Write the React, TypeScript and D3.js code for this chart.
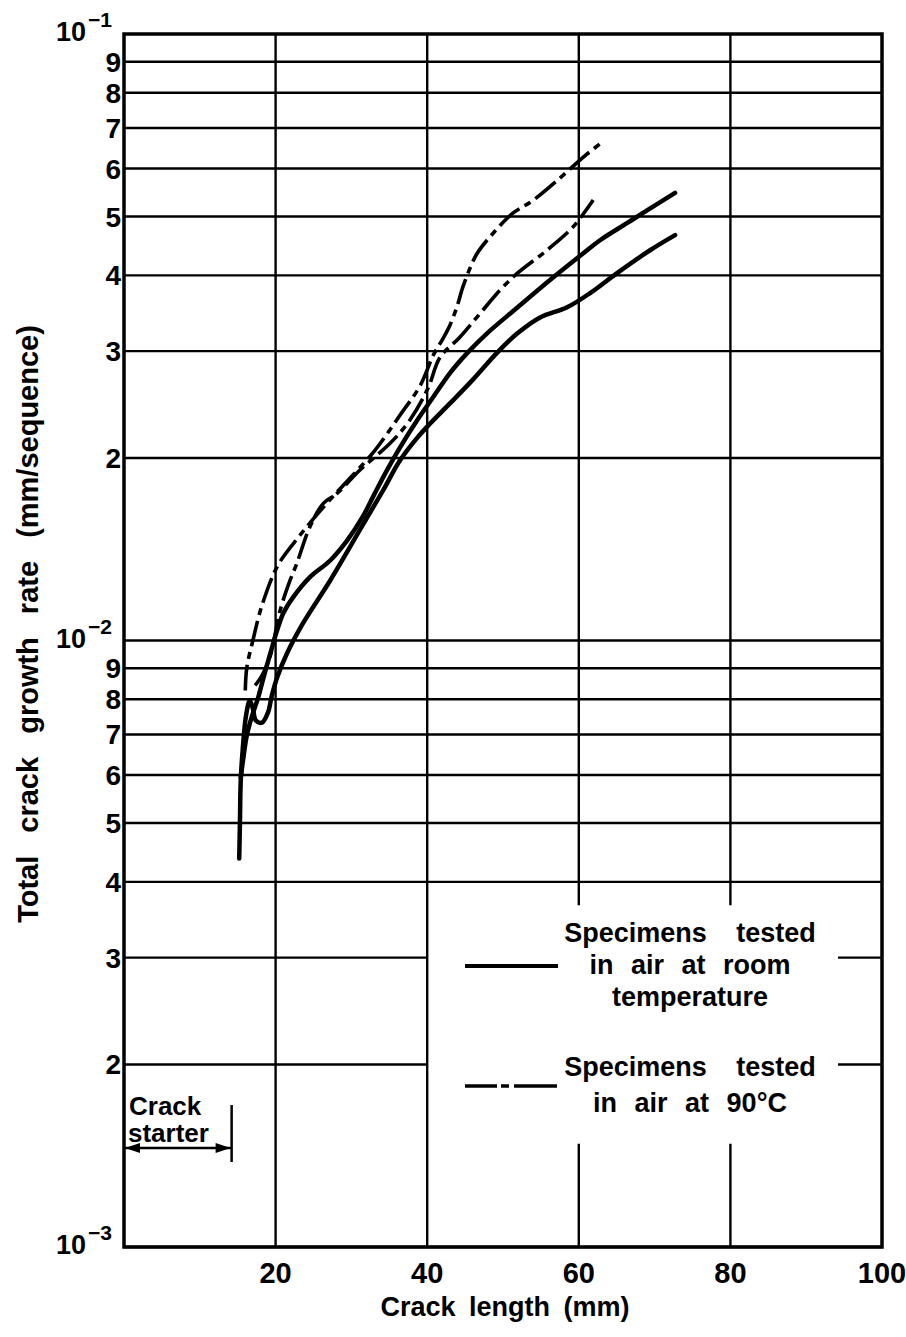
import * as d3 from "d3";

// ---- data (crack length mm, total crack growth rate mm/sequence) ----
const roomTemp1: [number, number][] = [
  [15.4, 0.00594], [15.7, 0.00634], [16.2, 0.00697], [16.9, 0.00752], [17.7, 0.00805],
  [18.3, 0.00859], [19.3, 0.00952], [20.2, 0.01039], [21.0, 0.01108], [22.3, 0.01178],
  [24.5, 0.01271], [27.2, 0.01355], [29.4, 0.0146], [31.5, 0.016], [33.1, 0.0175],
  [34.7, 0.0191], [36.4, 0.0208], [38.7, 0.0231], [40.8, 0.0252], [43.0, 0.0276],
  [45.3, 0.0298], [47.9, 0.0321], [51.9, 0.0354], [56.2, 0.0393], [60.6, 0.0435],
  [62.8, 0.0457], [66.4, 0.0488], [69.0, 0.0512], [72.7, 0.0547],
];

const roomTemp2: [number, number][] = [
  [15.2, 0.00437], [15.3, 0.00505], [15.4, 0.00587], [15.7, 0.00671], [16.1, 0.00752],
  [16.6, 0.00796], [17.0, 0.00772], [17.4, 0.00738], [18.2, 0.00732], [19.0, 0.00761],
  [19.5, 0.00811], [20.2, 0.00869], [21.5, 0.00952], [23.6, 0.01067], [27.2, 0.01256],
  [31.1, 0.0152], [34.2, 0.0177], [36.4, 0.0198], [38.7, 0.0216], [40.4, 0.0228],
  [43.0, 0.0246], [46.0, 0.0269], [49.2, 0.0298], [51.9, 0.0321], [54.9, 0.0341],
  [58.4, 0.0354], [61.5, 0.0374], [65.0, 0.0403], [69.4, 0.044], [72.7, 0.0466],
];

const hot1: [number, number][] = [
  [16.0, 0.00827], [16.2, 0.00902], [17.0, 0.01], [18.2, 0.01142], [20.3, 0.0133],
  [23.2, 0.0149], [26.5, 0.0167], [29.8, 0.01851], [33.1, 0.02058], [36.4, 0.02351],
  [39.1, 0.02635], [40.8, 0.02953], [42.1, 0.0315], [43.0, 0.0331], [43.9, 0.03543],
  [44.7, 0.03824], [45.7, 0.04124], [46.6, 0.04351], [48.7, 0.04694], [51.3, 0.05064],
  [54.0, 0.05322], [57.5, 0.05786], [60.6, 0.06267], [63.1, 0.06635],
];

const hot2: [number, number][] = [
  [17.3, 0.00843], [18.2, 0.00875], [19.3, 0.00944], [20.6, 0.01121], [21.9, 0.01256],
  [22.8, 0.0134], [24.5, 0.01537], [26.3, 0.01683], [28.1, 0.01748], [31.1, 0.01909],
  [35.1, 0.02114], [37.7, 0.02307], [40.1, 0.02605], [41.7, 0.02931], [44.3, 0.03162],
  [47.0, 0.03464], [49.6, 0.03781], [51.9, 0.04033], [55.8, 0.044], [59.2, 0.04802],
  [61.9, 0.05323],
];

const xTicks = [20, 40, 60, 80, 100];
const xGrid = [20, 40, 60, 80];
const decades = [1e-3, 1e-2];
const decadeDigits = [1, 2, 3, 4, 5, 6, 7, 8, 9];
const digitLabels = [2, 3, 4, 5, 6, 7, 8, 9];
const powerLabels: [number, string][] = [[1e-1, "−1"], [1e-2, "−2"], [1e-3, "−3"]];

// gridlines interrupted by the legend box
const brokenY = [3e-3, 2e-3];
const brokenX = [60, 80];
const legendX: [number, number] = [40, 94.2];
const legendY: [number, number] = [1.48e-3, 3.66e-3];
const crackStarter = 14.2;

const legendRows1 = ["Specimens tested", "in air at room", "temperature"];
const legendRows2 = ["Specimens tested", "in air at 90°C"];

const FONT = "'Liberation Sans', Arial, sans-serif";
const HOT_DASH = "26 6 7 6";

export default function App() {
  const width = 906;
  const height = 1337;
  const x = d3.scaleLinear().domain([0, 100]).range([124, 882]);
  const y = d3.scaleLog().domain([1e-3, 1e-1]).range([1247, 34]);

  const line = d3
    .line<[number, number]>()
    .x((d) => x(d[0]))
    .y((d) => y(d[1]))
    .curve(d3.curveCatmullRom.alpha(0.5));

  const yGrid = decades.flatMap((dec) => decadeDigits.map((k) => k * dec));

  const hLines = yGrid.flatMap((v, i) => {
    if (brokenY.includes(v)) {
      return [
        { key: `h${i}a`, x1: x(0), x2: x(legendX[0]), y: y(v) },
        { key: `h${i}b`, x1: x(legendX[1]), x2: x(100), y: y(v) },
      ];
    }
    return [{ key: `h${i}`, x1: x(0), x2: x(100), y: y(v) }];
  });

  const vLines = xGrid.flatMap((v) => {
    if (brokenX.includes(v)) {
      return [
        { key: `v${v}a`, x: x(v), y1: y(1e-1), y2: y(legendY[1]) },
        { key: `v${v}b`, x: x(v), y1: y(legendY[0]), y2: y(1e-3) },
      ];
    }
    return [{ key: `v${v}`, x: x(v), y1: y(1e-1), y2: y(1e-3) }];
  });

  const arrowY = 1148;
  const csX = x(crackStarter);

  // word gaps in the legend rows, as in the original typesetting
  const gap = (r: string) => (r.startsWith("Specimens") ? "22px" : "10px");

  return (
    <div style={{ position: "absolute", left: 0, top: 0 }}>
      <svg width={width} height={height} style={{ display: "block", background: "#fff" }}>
        <g stroke="#000" strokeWidth={2.4}>
          {hLines.map((l) => (
            <line key={l.key} x1={l.x1} x2={l.x2} y1={l.y} y2={l.y} />
          ))}
          {vLines.map((l) => (
            <line key={l.key} x1={l.x} x2={l.x} y1={l.y1} y2={l.y2} />
          ))}
        </g>

        {/* frame */}
        <rect
          x={x(0)}
          y={y(1e-1)}
          width={x(100) - x(0)}
          height={y(1e-3) - y(1e-1)}
          fill="none"
          stroke="#000"
          strokeWidth={3.5}
        />

        {/* curves */}
        <g fill="none" stroke="#000" strokeLinecap="round" strokeLinejoin="round">
          <path d={line(roomTemp1) ?? ""} strokeWidth={4.5} />
          <path d={line(roomTemp2) ?? ""} strokeWidth={4.5} />
          <path d={line(hot1) ?? ""} strokeWidth={3.6} strokeDasharray={HOT_DASH} strokeLinecap="butt" />
          <path d={line(hot2) ?? ""} strokeWidth={3.6} strokeDasharray={HOT_DASH} strokeLinecap="butt" />
        </g>

        {/* tick labels */}
        <g fontFamily={FONT} fontWeight="bold" fill="#000">
          {decades.flatMap((dec) =>
            digitLabels.map((k) => (
              <text key={`yl${dec}${k}`} x={121} y={y(k * dec) + 10} fontSize={28} textAnchor="end">
                {k}
              </text>
            ))
          )}
          {powerLabels.map(([v, exp]) => (
            <g key={`p${v}`}>
              <text x={86} y={y(v) + 7} fontSize={27} textAnchor="end">
                10
              </text>
              <text x={88} y={y(v) - 7} fontSize={21}>
                {exp}
              </text>
            </g>
          ))}
          {xTicks.map((t) => (
            <text key={`xl${t}`} x={x(t)} y={1283} fontSize={29} textAnchor="middle">
              {t}
            </text>
          ))}
        </g>

        {/* axis titles */}
        <text
          x={505}
          y={1316}
          fontFamily={FONT}
          fontWeight="bold"
          fontSize={27}
          textAnchor="middle"
          style={{ wordSpacing: "6px" }}
        >
          Crack length (mm)
        </text>
        <text
          transform="translate(38,624) rotate(-90)"
          fontFamily={FONT}
          fontWeight="bold"
          fontSize={29}
          textAnchor="middle"
          style={{ wordSpacing: "15px" }}
        >
          Total crack growth rate (mm/sequence)
        </text>

        {/* legend */}
        <g fontFamily={FONT} fontWeight="bold" fontSize={27} textAnchor="middle">
          {legendRows1.map((r, i) => (
            <text key={`l1${i}`} x={690} y={942 + i * 32} style={{ wordSpacing: gap(r) }}>
              {r}
            </text>
          ))}
          {legendRows2.map((r, i) => (
            <text key={`l2${i}`} x={690} y={1076 + i * 36} style={{ wordSpacing: gap(r) }}>
              {r}
            </text>
          ))}
        </g>
        <line x1={465} x2={558} y1={966} y2={966} stroke="#000" strokeWidth={4} />
        <line x1={465} x2={557} y1={1086} y2={1086} stroke="#000" strokeWidth={3.6} strokeDasharray="32 4 8 5 60" />

        {/* crack starter */}
        <g fontFamily={FONT} fontWeight="bold" fontSize={26}>
          <text x={129} y={1115}>Crack</text>
          <text x={128} y={1142}>starter</text>
        </g>
        <line x1={x(0)} x2={csX} y1={arrowY} y2={arrowY} stroke="#000" strokeWidth={2.5} />
        <line x1={csX} x2={csX} y1={1105} y2={1162} stroke="#000" strokeWidth={2.5} />
        <polygon
          points={`${x(0) + 1},${arrowY} ${x(0) + 16},${arrowY - 5} ${x(0) + 16},${arrowY + 5}`}
          fill="#000"
        />
        <polygon points={`${csX - 1},${arrowY} ${csX - 16},${arrowY - 5} ${csX - 16},${arrowY + 5}`} fill="#000" />
      </svg>
    </div>
  );
}
